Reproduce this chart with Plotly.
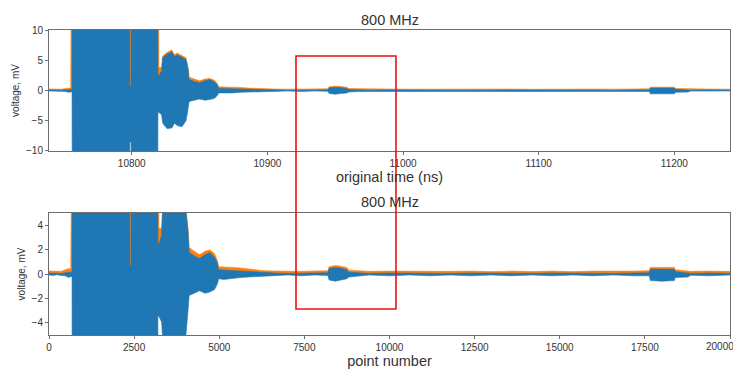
import plotly.graph_objects as go

# ---- data: envelope of the two traces, time in ns ----
t_ns = [10739.0, 10742.0, 10745.0, 10748.0, 10751.0, 10753.5, 10755.0, 10755.3, 10756.0, 10756.1,
        10798.5, 10798.6, 10799.5, 10799.6, 10819.2, 10819.3, 10819.9, 10820.0, 10822.0, 10822.8,
        10826.0, 10829.5, 10831.5, 10833.5, 10837.0, 10840.0, 10841.5, 10842.3, 10846.0, 10850.0,
        10854.0, 10857.5, 10861.0, 10863.2, 10864.0, 10868.0, 10874.0, 10880.0, 10886.0, 10895.0,
        10905.0, 10915.0, 10925.0, 10935.0, 10944.5, 10945.5, 10950.0, 10954.0, 10958.5, 10960.0,
        10967.0, 10975.0, 10990.0, 11005.0, 11020.0, 11035.0, 11050.0, 11065.0, 11080.0, 11095.0,
        11110.0, 11125.0, 11140.0, 11155.0, 11170.0, 11181.5, 11182.3, 11191.0, 11200.0, 11200.6,
        11210.0, 11212.0, 11225.0, 11241.0]
blue_upper = [0.08, 0.05, 0.08, 0.05, 0.10, 0.15, 0.15, 0.15, 0.15, 14,
              14, 0.7, 0.7, 14, 14, 2.5, 2.5, 2.5, 3.2, 5.4,
              6.0, 6.4, 5.6, 5.9, 5.5, 5.1, 3.5, 1.8, 1.5, 1.3,
              1.6, 1.8, 1.4, 0.9, 0.35, 0.35, 0.30, 0.25, 0.20, 0.12,
              0.08, 0.05, 0.05, 0.08, 0.10, 0.45, 0.55, 0.50, 0.35, 0.15,
              0.10, 0.05, 0.08, 0.05, 0.08, 0.05, 0.08, 0.05, 0.08, 0.05,
              0.08, 0.05, 0.08, 0.05, 0.08, 0.10, 0.40, 0.40, 0.40, 0.20,
              0.12, 0.05, 0.08, 0.05]
blue_lower = [-0.08, -0.12, -0.06, -0.12, -0.15, -0.30, -0.20, -0.20, -0.20, -14,
              -14, -8.5, -8.5, -14, -14, -3.5, -3.5, -3.5, -4.0, -5.4,
              -6.3, -6.2, -5.4, -5.8, -6.0, -5.0, -3.0, -1.8, -1.6, -1.4,
              -1.6, -1.5, -1.3, -0.8, -0.40, -0.45, -0.40, -0.30, -0.25, -0.18,
              -0.12, -0.08, -0.15, -0.08, -0.12, -0.50, -0.60, -0.50, -0.40, -0.25,
              -0.18, -0.08, -0.15, -0.08, -0.15, -0.08, -0.15, -0.08, -0.15, -0.08,
              -0.15, -0.08, -0.15, -0.08, -0.15, -0.15, -0.55, -0.60, -0.55, -0.30,
              -0.25, -0.10, -0.15, -0.08]
orange_upper = [0.25, 0.22, 0.25, 0.22, 0.35, 0.45, 0.40, 14, 14, 14,
                14, 14, 14, 14, 14, 14, 14, 3.8, 3.8, 5.7,
                6.3, 6.7, 5.9, 6.2, 5.8, 5.4, 3.8, 2.2, 1.9, 1.6,
                1.9, 2.0, 1.7, 1.1, 0.60, 0.60, 0.55, 0.50, 0.40, 0.30,
                0.25, 0.22, 0.22, 0.25, 0.28, 0.60, 0.70, 0.65, 0.55, 0.32,
                0.28, 0.22, 0.24, 0.22, 0.24, 0.22, 0.24, 0.20, 0.24, 0.20,
                0.24, 0.20, 0.24, 0.22, 0.24, 0.28, 0.55, 0.55, 0.55, 0.35,
                0.28, 0.22, 0.24, 0.22]
orange_lower = [0.0] * len(t_ns)

T0_NS = 10739.0      # time of point number 0
DT_NS = 0.0251       # ns per point

top_xticks = [10800, 10900, 11000, 11100, 11200]
top_yticks = [-10, -5, 0, 5, 10]
bot_xticks = [0, 2500, 5000, 7500, 10000, 12500, 15000, 17500, 20000]
bot_yticks = [-4, -2, 0, 2, 4]

BLUE = "#1f77b4"
ORANGE = "#ff7f0e"

points = [(t - T0_NS) / DT_NS for t in t_ns]
# the last bottom tick label sits at the window edge: it is drawn as an
# annotation pulled just inside the page so that it is not cut off
bot_xtext = [str(v) for v in bot_xticks[:-1]] + [""]


def band(x, lo, hi, color, xa, ya, name):
    return go.Scatter(
        x=list(x) + list(x)[::-1],
        y=list(hi) + list(lo)[::-1],
        fill="toself", fillcolor=color, mode="lines",
        line=dict(color=color, width=0.6),
        xaxis=xa, yaxis=ya, name=name, showlegend=False, hoverinfo="skip",
    )


fig = go.Figure()
for xa, ya, xs in (("x", "y", t_ns), ("x2", "y2", points)):
    fig.add_trace(band(xs, orange_lower, orange_upper, ORANGE, xa, ya, "orange"))
    fig.add_trace(band(xs, blue_lower, blue_upper, BLUE, xa, ya, "blue"))

FONT = "Liberation Sans, Arial, sans-serif"
axis_common = dict(showline=True, linecolor="#6e6e6e", linewidth=1, mirror=True,
                   showgrid=False, zeroline=False, ticks="outside", ticklen=3,
                   tickcolor="#6e6e6e", tickfont=dict(size=10, color="#333"),
                   automargin=False)

# page body adds an 8 px offset, so the figure is 8 px smaller than the window
fig.update_layout(
    width=733, height=362,
    margin=dict(l=41, r=11, t=22, b=35),
    paper_bgcolor="white", plot_bgcolor="white",
    font=dict(family=FONT, color="#333"),
    xaxis=dict(axis_common, domain=[0, 1], anchor="y", range=[10739, 11241],
               tickvals=top_xticks, tickformat="d",
               title=dict(text="original time (ns)", font=dict(size=14.5), standoff=3)),
    yaxis=dict(axis_common, domain=[0.6033, 1.0], anchor="x", range=[-10, 10],
               tickvals=top_yticks,
               title=dict(text="voltage, mV", font=dict(size=10), standoff=4)),
    xaxis2=dict(axis_common, domain=[0, 1], anchor="y2", range=[0, 20000],
                tickvals=bot_xticks, ticktext=bot_xtext,
                title=dict(text="point number", font=dict(size=14.5), standoff=3)),
    yaxis2=dict(axis_common, domain=[0, 0.4], anchor="x2", range=[-5.08, 5.08],
                tickvals=bot_yticks,
                title=dict(text="voltage, mV", font=dict(size=10), standoff=4)),
    annotations=[
        dict(text="800 MHz", x=0.5, y=1.0328, xref="paper", yref="paper",
             xanchor="center", yanchor="middle", showarrow=False,
             font=dict(size=14.5, color="#333")),
        dict(text="800 MHz", x=0.5, y=0.436, xref="paper", yref="paper",
             xanchor="center", yanchor="middle", showarrow=False,
             font=dict(size=14.5, color="#333")),
        dict(text=str(bot_xticks[-1]), x=1.0085, y=-0.039, xref="paper", yref="paper",
             xanchor="right", yanchor="middle", showarrow=False,
             font=dict(size=10, color="#333")),
    ],
    shapes=[dict(type="rect", xref="paper", yref="paper",
                 x0=0.3627, x1=0.5095, y0=0.0852, y1=0.9148,
                 line=dict(color="#ee1111", width=1.6), fillcolor="rgba(0,0,0,0)")],
)

fig.write_html("out.html")
